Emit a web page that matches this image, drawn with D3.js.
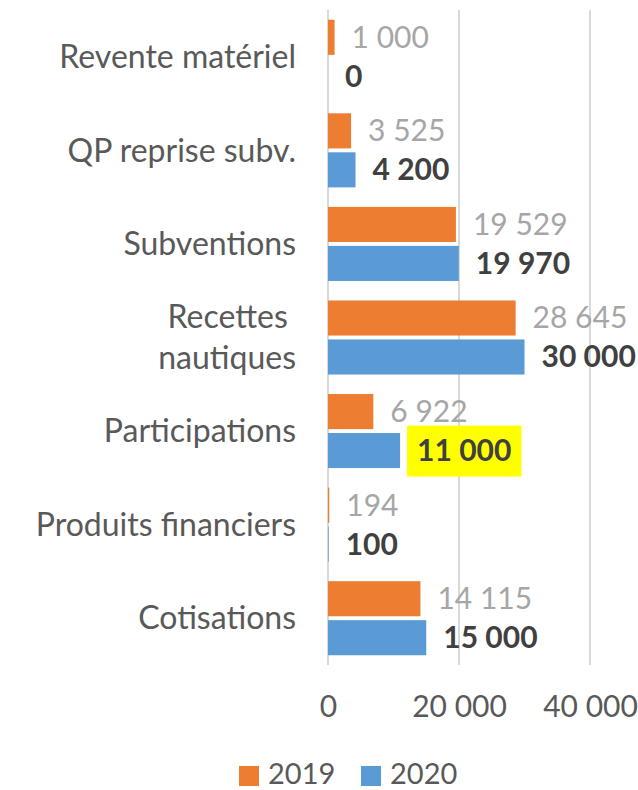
<!DOCTYPE html>
<html>
<head>
<meta charset="utf-8">
<script src="https://cdn.jsdelivr.net/npm/d3@7"></script>
<style>
  body { margin: 0; background: #fff; }
  text { font-family: Lato, "Open Sans", sans-serif; }
</style>
</head>
<body>
<div id="chart-area"></div>
<script>
// data
var categories = ['Revente matériel', 'QP reprise subv.', 'Subventions', 'Recettes \nnautiques',
                  'Participations', 'Produits financiers', 'Cotisations'];
var series = ['2019', '2020'];
var values2019 = [1000, 3525, 19529, 28645, 6922, 194, 14115];
var values2020 = [0, 4200, 19970, 30000, 11000, 100, 15000];
var xTicks = [0, 20000, 40000];
var highlighted = 'Participations'; // 2020 label with yellow background

var svgWidth = 638, svgHeight = 790;
var colors = {'2019': '#ED7D31', '2020': '#5B9BD5'};

var fr = d3.formatLocale({decimal: ',', thousands: ' ', grouping: [3], currency: ['', '']});
var fmt = fr.format(',d');

var rows = categories.map(function(c, i) {
    return {cat: c, '2019': values2019[i], '2020': values2020[i]};
});

var svg = d3.select('#chart-area')
    .append('svg')
    .attr('width', svgWidth)
    .attr('height', svgHeight);

var xScale = d3.scaleLinear()
    .domain([0, 40000])
    .range([328, 590]);

var yScale = d3.scaleBand()
    .domain(categories)
    .range([10, 665]);

var ySub = d3.scaleBand()
    .domain(series)
    .range([0, yScale.bandwidth()])
    .paddingInner(0.1)
    .paddingOuter(0.25);

// gridlines
svg.append('g')
    .selectAll('line')
    .data(xTicks)
    .enter()
    .append('line')
    .attr('x1', d => xScale(d))
    .attr('x2', d => xScale(d))
    .attr('y1', 10)
    .attr('y2', 665)
    .attr('stroke', '#D9D9D9')
    .attr('stroke-width', 2);

// x axis labels
var xAxis = d3.axisBottom(xScale)
    .tickValues(xTicks)
    .tickFormat(fmt)
    .tickSize(0)
    .tickPadding(31);

var xg = svg.append('g')
    .attr('transform', 'translate(0,665)')
    .call(xAxis);
xg.select('.domain').remove();
xg.selectAll('text')
    .attr('fill', '#595959')
    .attr('font-size', 30)
    .attr('font-family', 'Lato, sans-serif');

// category labels
var catG = svg.append('g');
rows.forEach(function(r) {
    var lines = r.cat.split('\n');
    var cy = yScale(r.cat) + yScale.bandwidth() / 2;
    var lh = 41;
    var t = catG.append('text')
        .attr('x', 296)
        .attr('text-anchor', 'end')
        .attr('fill', '#595959')
        .attr('font-size', 32)
        .style('white-space', 'pre');
    lines.forEach(function(l, j) {
        t.append('tspan')
            .attr('x', 296)
            .attr('y', cy + (j - (lines.length - 1) / 2) * lh)
            .attr('dy', '0.35em')
            .text(l);
    });
});

// bars
var groups = svg.selectAll('g.cat')
    .data(rows)
    .enter()
    .append('g')
    .attr('class', 'cat')
    .attr('transform', d => 'translate(0,' + yScale(d.cat) + ')');

groups.selectAll('rect')
    .data(d => series.map(s => ({s: s, v: d[s], cat: d.cat})))
    .enter()
    .append('rect')
    .attr('x', xScale(0))
    .attr('y', d => ySub(d.s))
    .attr('width', d => xScale(d.v) - xScale(0))
    .attr('height', ySub.bandwidth())
    .attr('fill', d => colors[d.s]);

// value labels
groups.each(function(d) {
    var g = d3.select(this);
    series.forEach(function(s) {
        var tx = xScale(d[s]) + 17;
        var ty = ySub(s) + ySub.bandwidth() / 2;
        var bg = null;
        if (s === '2020' && d.cat === highlighted) {
            bg = g.append('rect').attr('fill', '#FFFF00');
        }
        var t = g.append('text')
            .attr('x', tx)
            .attr('y', ty)
            .attr('dy', '0.35em')
            .attr('font-size', 30)
            .attr('fill', s === '2019' ? '#A6A6A6' : '#404040')
            .attr('font-weight', s === '2019' ? 'normal' : 'bold')
            .text(fmt(d[s]));
        if (bg) {
            var bb = t.node().getBBox();
            bg.attr('x', bb.x - 10)
              .attr('y', ty - 25)
              .attr('width', bb.width + 20)
              .attr('height', 51);
        }
    });
});

// legend
var legend = svg.append('g')
    .attr('transform', 'translate(239,764)');
var legItems = legend.selectAll('g')
    .data(series)
    .enter()
    .append('g')
    .attr('transform', (d, i) => 'translate(' + (i * 122) + ',0)');
legItems.append('rect')
    .attr('y', 2)
    .attr('width', 20)
    .attr('height', 20)
    .attr('fill', d => colors[d]);
legItems.append('text')
    .attr('x', 29)
    .attr('y', 10)
    .attr('dy', '0.35em')
    .attr('font-size', 29)
    .attr('fill', '#595959')
    .text(d => d);
</script>
</body>
</html>
